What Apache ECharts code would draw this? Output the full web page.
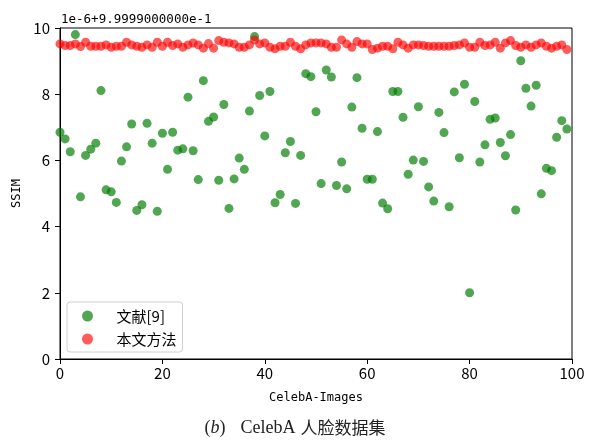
<!DOCTYPE html>
<html>
<head>
<meta charset="utf-8">
<script src="https://cdn.jsdelivr.net/npm/echarts@6/dist/echarts.min.js"></script>
<style>html,body{margin:0;padding:0;background:#fff}#c{width:590px;height:441px}</style>
</head>
<body>
<div id="c"></div>
<script>
const seriesNames = ['文献[9]', '本文方法'];
const xTicks = [0, 20, 40, 60, 80, 100];
const yTicks = [0, 2, 4, 6, 8, 10];
const offsetText = '1e-6+9.9999000000e-1';
const xName = 'CelebA-Images';
const yName = 'SSIM';

const refValues = [
  6.85, 6.65, 6.26, 9.80, 4.90, 6.15, 6.34, 6.52, 8.11, 5.11,
  5.05, 4.73, 5.98, 6.41, 7.10, 4.49, 4.66, 7.12, 6.52, 4.46,
  6.82, 5.73, 6.85, 6.31, 6.35, 7.91, 6.29, 5.42, 8.41, 7.18,
  7.31, 5.40, 7.69, 4.55, 5.44, 6.07, 5.73, 7.49, 9.74, 7.96,
  6.74, 8.08, 4.72, 4.97, 6.23, 6.57, 4.70, 6.15, 8.62, 8.53,
  7.47, 5.30, 8.73, 8.52, 5.24, 5.95, 5.14, 7.61, 8.50, 6.97,
  5.43, 5.43, 6.87, 4.71, 4.54, 8.08, 8.08, 7.30, 5.58, 6.01,
  7.62, 5.97, 5.20, 4.77, 7.45, 6.84, 4.60, 8.07, 6.08, 8.30,
  2.00, 7.78, 5.95, 6.47, 7.24, 7.28, 6.54, 6.14, 6.78, 4.50,
  9.01, 8.18, 7.64, 8.27, 4.99, 5.76, 5.69, 6.70, 7.20, 6.95
];
const oursValues = [
  9.52, 9.47, 9.47, 9.52, 9.44, 9.57, 9.45, 9.45, 9.45, 9.49,
  9.42, 9.45, 9.45, 9.57, 9.49, 9.45, 9.42, 9.49, 9.42, 9.57,
  9.45, 9.57, 9.47, 9.52, 9.42, 9.49, 9.55, 9.49, 9.39, 9.53,
  9.39, 9.62, 9.57, 9.55, 9.52, 9.42, 9.42, 9.49, 9.64, 9.52,
  9.55, 9.42, 9.37, 9.45, 9.45, 9.57, 9.45, 9.37, 9.49, 9.55,
  9.55, 9.55, 9.52, 9.42, 9.42, 9.64, 9.52, 9.42, 9.59, 9.52,
  9.52, 9.35, 9.39, 9.45, 9.45, 9.37, 9.57, 9.49, 9.39, 9.49,
  9.49, 9.47, 9.45, 9.45, 9.45, 9.45, 9.45, 9.47, 9.49, 9.55,
  9.42, 9.42, 9.57, 9.47, 9.49, 9.57, 9.39, 9.55, 9.62, 9.47,
  9.42, 9.49, 9.42, 9.49, 9.55, 9.45, 9.39, 9.45, 9.49, 9.35
];

const chart = echarts.init(document.getElementById('c'), null, {renderer: 'canvas'});
const tickFont = '"Noto Sans CJK SC", "DejaVu Sans", sans-serif';
const monoFont = '"DejaVu Sans Mono", monospace';
const serifFont = '"Liberation Serif", "DejaVu Serif", serif';

chart.setOption({
  animation: false,
  backgroundColor: '#fff',
  grid: {left: 60, right: 18, top: 28, bottom: 82, show: true, borderColor: '#000', borderWidth: 1, backgroundColor: 'transparent'},
  title: [{
    text: '{a|(}{i|b}{a|)}   {a|CelebA} {c|人脸数据集}',
    left: 'center', top: 414,
    textStyle: {
      fontWeight: 'normal',
      rich: {
        a: {fontFamily: serifFont, fontSize: 18, fontWeight: 'normal', color: '#222'},
        i: {fontFamily: serifFont, fontSize: 18, fontStyle: 'italic', fontWeight: 'normal', color: '#222'},
        c: {fontFamily: '"Noto Sans CJK SC", sans-serif', fontSize: 17, fontWeight: 'normal', color: '#222'}
      }
    }
  }, {
    text: offsetText,
    left: 56, top: 8,
    textStyle: {fontFamily: monoFont, fontSize: 12.5, fontWeight: 'normal', color: '#000'}
  }],
  legend: {
    orient: 'vertical',
    left: 67, top: 302,
    padding: [6, 6, 5, 15],
    itemWidth: 12, itemHeight: 11,
    itemGap: 7,
    icon: 'circle',
    backgroundColor: '#fff',
    borderColor: '#d0d0d0', borderWidth: 1, borderRadius: 3,
    textStyle: {fontFamily: tickFont, fontSize: 15, color: '#000', padding: [0, 0, 0, 18], lineHeight: 16},
    data: seriesNames
  },
  xAxis: {
    type: 'value', min: xTicks[0], max: xTicks[xTicks.length - 1], interval: 20,
    name: xName, nameLocation: 'middle', nameGap: 33,
    nameTextStyle: {fontFamily: monoFont, fontSize: 12, color: '#000'},
    axisLine: {show: true, lineStyle: {color: '#000', width: 1}},
    axisTick: {show: true, length: 5, lineStyle: {color: '#000'}},
    axisLabel: {fontFamily: tickFont, fontSize: 15, color: '#000', margin: 7},
    splitLine: {show: false}
  },
  yAxis: {
    type: 'value', min: yTicks[0], max: yTicks[yTicks.length - 1], interval: 2,
    name: yName, nameLocation: 'middle', nameGap: 34, nameRotate: 90,
    nameTextStyle: {fontFamily: monoFont, fontSize: 12, color: '#000'},
    axisLine: {show: true, lineStyle: {color: '#000', width: 1}},
    axisTick: {show: true, length: 5, lineStyle: {color: '#000'}},
    axisLabel: {fontFamily: tickFont, fontSize: 15, color: '#000', margin: 10},
    splitLine: {show: false}
  },
  series: [{
    name: seriesNames[0], type: 'scatter', symbolSize: 9,
    itemStyle: {color: 'rgba(0,125,0,0.85)'},
    data: refValues.map((v, i) => [i, v])
  }, {
    name: seriesNames[1], type: 'scatter', symbolSize: 9,
    itemStyle: {color: 'rgba(255,0,0,0.8)'},
    data: oursValues.map((v, i) => [i, v])
  }]
});
</script>
</body>
</html>
